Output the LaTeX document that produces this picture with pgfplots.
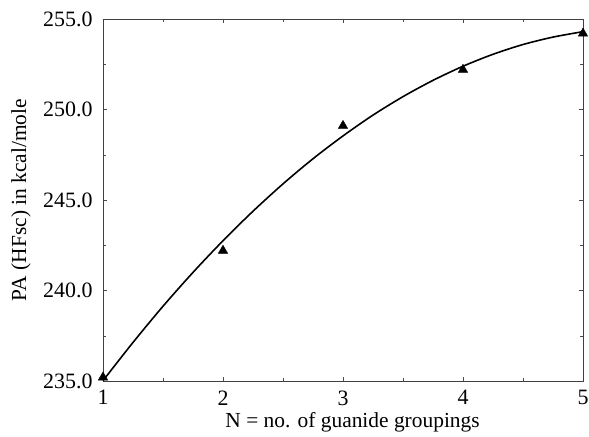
\documentclass[border=0pt]{standalone}
\usepackage{fontspec}
\setmainfont{Liberation Serif}
\usepackage{pgfplots}
\pgfplotsset{compat=1.18}

\begin{document}
\begin{tikzpicture}
\begin{axis}[
  scale only axis,
  width=480bp, height=362bp,
  xmin=1, xmax=5, ymin=235, ymax=255,
  xtick={1,2,3,4,5},
  minor xtick={1.5,2.5,3.5,4.5},
  ytick={235,240,245,250,255},
  minor ytick={237.5,242.5,247.5,252.5},
  tick align=inside,
  major tick length=4pt, minor tick length=3pt,
  every tick/.style={black!70},
  axis line style={black!75, line width=0.8pt},
  yticklabel style={/pgf/number format/fixed, /pgf/number format/precision=1,
                    /pgf/number format/fixed zerofill, xshift=-7bp},
  xticklabel style={yshift=-6bp},
  /pgf/number format/assume math mode=true,
  tick label style={font=\fontsize{22}{25}\selectfont},
  label style={font=\fontsize{21.5}{25}\selectfont},
  xlabel={N = no. of guanide groupings},
  ylabel={PA (HFsc) in kcal/mole},
  xlabel style={at={(axis description cs:0.52,-0.115)}, anchor=center},
  ylabel style={at={(axis description cs:-0.171,0.5)}, anchor=center},
  clip=false,
]
% quadratic fit
\addplot[black, line width=1.6pt, smooth] coordinates {
  (1.00,235.02)(1.25,237.13)(1.50,239.13)(1.75,241.00)(2.00,242.75)
  (2.25,244.38)(2.50,245.89)(2.75,247.28)(3.00,248.54)(3.25,249.69)
  (3.50,250.71)(3.75,251.61)(4.00,252.39)(4.25,253.05)(4.50,253.59)
  (4.75,254.00)(5.00,254.30)
};
\addplot[only marks, mark=triangle*, mark size=5.5pt, black] coordinates {
  (1,235.2)(2,242.2)(3,249.1)(4,252.2)(5,254.2)
};
\end{axis}
\pgfresetboundingbox
\path[use as bounding box] ([shift={(-103bp,-56bp)}]current axis.south west)
  rectangle ([shift={(6bp,19bp)}]current axis.north east);
\end{tikzpicture}
\end{document}
